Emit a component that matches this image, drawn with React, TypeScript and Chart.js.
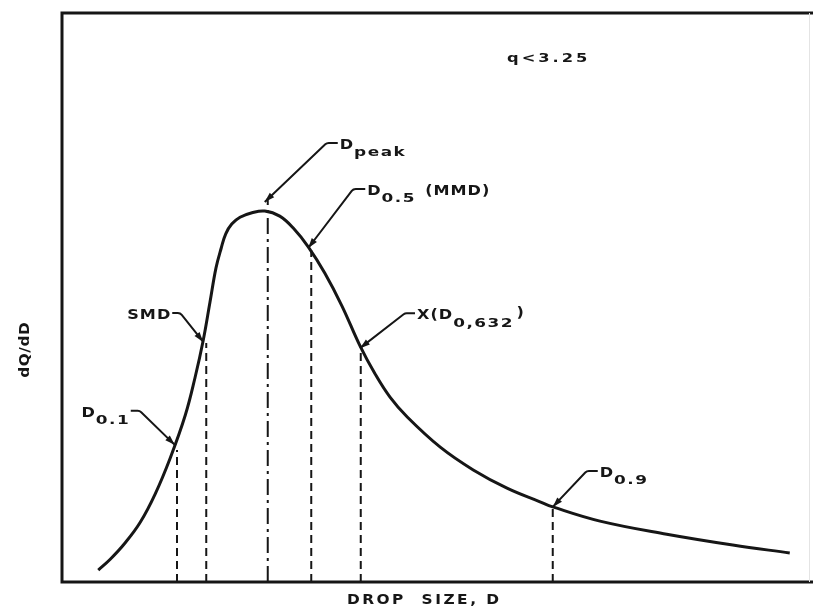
import React, { useEffect, useRef } from 'react';
import { Chart, registerables } from 'chart.js';

Chart.register(...registerables);

// Drop size (arbitrary units, 0..100 across the frame) and dQ/dD (arbitrary units, 0..100)
const curveD = [4.7, 6.3, 8.3, 10.3, 12.3, 14.3, 16.3, 17.6, 18.7, 19.6, 20.4, 21.1, 21.7, 22.5, 23.6, 25.2, 26.9, 28.9, 30.7, 32.7, 34.9, 37.2, 39.6, 41.6, 43.6, 45.9, 50.3, 54.7, 59.2, 63.6, 65.3, 71.6, 80.5, 89.3, 96.9];
const curveV = [2.1, 4.0, 6.9, 10.5, 15.5, 21.8, 29.3, 35.9, 42.5, 49.2, 55.2, 58.7, 61.2, 62.9, 64.1, 64.9, 65.2, 64.3, 62.2, 58.9, 54.3, 48.5, 41.5, 36.6, 32.5, 29.0, 23.7, 19.7, 16.5, 14.1, 13.2, 10.7, 8.4, 6.5, 5.1];

// Characteristic diameters: vertical marker lines
const markerNames = ['D0.1', 'SMD', 'Dpeak', 'D0.5', 'X', 'D0.9'];
const markerD = [15.2, 19.1, 27.3, 33.1, 39.7, 65.3];
const markerTop = [23.2, 42.0, 67.5, 58.3, 40.4, 13.2];
const markerDashDot = [false, false, true, false, false, false];

// Leader arrow tips (on the curve)
const tipD = [14.9, 18.7, 26.9, 32.7, 39.6, 65.3];
const tipV = [24.1, 42.2, 66.8, 58.7, 41.1, 13.2];

// Label texts: base, subscript, tail
const labelBase = ['D', 'SMD', 'D', 'D', 'X(D', 'D'];
const labelSub = ['0.1', '', 'peak', '0.5', '0,632', '0.9'];
const labelTail = ['', '', '', ' (MMD)', ')', ''];

const xTitle = 'DROP  SIZE, D';
const yTitle = 'dQ/dD';
const noteText = 'q<3.25';

// leader geometry (px offsets from tip): elbow, horizontal end, text anchor, align
const leaderLayout = [
  { ex: -35, ey: -34, hx: -44, tx: -46, align: 'right' },
  { ex: -23, ey: -29, hx: -31, tx: -33, align: 'right' },
  { ex: 62, ey: -59, hx: 73, tx: 75, align: 'left' },
  { ex: 45, ey: -59, hx: 57, tx: 59, align: 'left' },
  { ex: 45, ey: -35, hx: 55, tx: 57, align: 'left' },
  { ex: 34, ey: -36, hx: 45, tx: 47, align: 'left' },
];

const INK = '#161616';
const FONT = '"DejaVu Sans", "Liberation Sans", sans-serif';

type TS = { size: number; stretch: number; spacing: number };
const BASE: TS = { size: 14, stretch: 1.15, spacing: 1 };
const SUB: TS = { size: 13, stretch: 1.3, spacing: 1.5 };

function textWidth(ctx: CanvasRenderingContext2D, text: string, s: TS) {
  ctx.font = `bold ${s.size}px ${FONT}`;
  (ctx as any).letterSpacing = '0px';
  let w = 0;
  for (const ch of text) w += ctx.measureText(ch).width * s.stretch + s.spacing;
  return text.length ? w - s.spacing : 0;
}

function drawText(ctx: CanvasRenderingContext2D, text: string, x: number, cy: number, s: TS) {
  ctx.font = `bold ${s.size}px ${FONT}`;
  (ctx as any).letterSpacing = '0px';
  ctx.textAlign = 'left';
  ctx.textBaseline = 'middle';
  let cx = x;
  for (const ch of text) {
    const w = ctx.measureText(ch).width;
    ctx.save();
    ctx.translate(cx, cy);
    ctx.scale(s.stretch, 1);
    ctx.fillText(ch, 0, 0);
    ctx.restore();
    cx += w * s.stretch + s.spacing;
  }
}

function drawLabel(ctx: CanvasRenderingContext2D, x0: number, cy: number, base: string, sub: string, tail: string, align: string) {
  const wb = textWidth(ctx, base, BASE);
  const ws = sub ? textWidth(ctx, sub, SUB) + 1 : 0;
  const wt = tail ? textWidth(ctx, tail, BASE) + 4 : 0;
  const total = wb + ws + wt;
  const sx = align === 'right' ? x0 - total : x0;
  drawText(ctx, base, sx, cy, BASE);
  if (sub) drawText(ctx, sub, sx + wb + 1, cy + 8, SUB);
  if (tail) drawText(ctx, tail, sx + wb + ws + 4, cy + (tail === ')' ? -2 : 0), BASE);
}

const annotPlugin = {
  id: 'annot',
  afterDatasetsDraw(chart: any) {
    const { ctx, chartArea: ca, scales } = chart;
    const xs = scales.x;
    const ys = scales.y;
    ctx.save();
    // frame
    ctx.strokeStyle = INK;
    ctx.lineWidth = 3;
    ctx.lineCap = 'square';
    ctx.beginPath();
    ctx.moveTo(ca.left - 1, ca.top);
    ctx.lineTo(ca.left - 1, ca.bottom);
    ctx.moveTo(ca.left - 1, ca.top);
    ctx.lineTo(chart.width, ca.top);
    ctx.moveTo(ca.left - 1, ca.bottom);
    ctx.lineTo(chart.width, ca.bottom);
    ctx.stroke();
    ctx.lineCap = 'butt';
    ctx.strokeStyle = '#e4e4e4';
    ctx.lineWidth = 1;
    ctx.beginPath();
    ctx.moveTo(chart.width - 3.5, ca.top);
    ctx.lineTo(chart.width - 3.5, ca.bottom);
    ctx.stroke();

    ctx.fillStyle = INK;
    ctx.strokeStyle = INK;

    // leaders and labels
    for (let i = 0; i < tipD.length; i++) {
      const L = leaderLayout[i];
      const tx = xs.getPixelForValue(tipD[i]);
      const ty = ys.getPixelForValue(tipV[i]);
      const exx = tx + L.ex;
      const eyy = ty + L.ey;
      const hxx = tx + L.hx;
      ctx.lineWidth = 2;
      ctx.beginPath();
      ctx.moveTo(hxx, eyy);
      ctx.arcTo(exx, eyy, tx, ty, 5);
      ctx.lineTo(tx, ty);
      ctx.stroke();
      // arrow head
      const ang = Math.atan2(ty - eyy, tx - exx);
      const len = 10;
      const hw = 3.2;
      const bx = tx - Math.cos(ang) * len;
      const by = ty - Math.sin(ang) * len;
      ctx.beginPath();
      ctx.moveTo(tx, ty);
      ctx.lineTo(bx - Math.sin(ang) * hw, by + Math.cos(ang) * hw);
      ctx.lineTo(bx + Math.sin(ang) * hw, by - Math.cos(ang) * hw);
      ctx.closePath();
      ctx.fill();
      drawLabel(ctx, tx + L.tx, eyy + 2, labelBase[i], labelSub[i], labelTail[i], L.align);
    }

    // note
    drawText(ctx, noteText, xs.getPixelForValue(59.2), ys.getPixelForValue(91.9), { size: 13, stretch: 1.25, spacing: 3 });

    // x title
    const XT: TS = { size: 14, stretch: 1.1, spacing: 2.5 };
    const wx = textWidth(ctx, xTitle, XT);
    drawText(ctx, xTitle, 423 - wx / 2, ca.bottom + 18, XT);

    // y title
    const YT: TS = { size: 14, stretch: 1.1, spacing: 0.5 };
    const wy = textWidth(ctx, yTitle, YT);
    ctx.save();
    ctx.translate(25, 350);
    ctx.rotate(-Math.PI / 2);
    drawText(ctx, yTitle, -wy / 2, 0, YT);
    ctx.restore();

    ctx.restore();
  },
};

export default function App() {
  const ref = useRef<HTMLCanvasElement | null>(null);
  useEffect(() => {
    if (!ref.current) return;
    const curve = curveD.map((d, i) => ({ x: d, y: curveV[i] }));
    const markerSets = markerD.map((d, i) => ({
      label: markerNames[i],
      data: [{ x: d, y: 0 }, { x: d, y: markerTop[i] }],
      borderColor: INK,
      borderWidth: 2,
      borderDash: markerDashDot[i] ? [16, 5, 3, 5] : [8, 5],
      pointRadius: 0,
      fill: false,
    }));
    const chart = new Chart(ref.current, {
      type: 'line',
      data: {
        datasets: [
          {
            label: 'dQ/dD',
            data: curve,
            borderColor: INK,
            borderWidth: 3,
            pointRadius: 0,
            fill: false,
            tension: 0.4,
          },
          ...markerSets,
        ] as any,
      },
      options: {
        animation: false,
        responsive: false,
        devicePixelRatio: 1,
        events: [],
        layout: { padding: { left: 63, top: 13, right: 0, bottom: 25 } },
        plugins: { legend: { display: false }, tooltip: { enabled: false } },
        scales: {
          x: { type: 'linear', min: 0, max: 100, display: false },
          y: { type: 'linear', min: 0, max: 100, display: false },
        },
      } as any,
      plugins: [annotPlugin],
    });
    return () => chart.destroy();
  }, []);
  return (
    <div style={{ position: 'fixed', left: 0, top: 0, width: 813, height: 607, background: '#fff' }}>
      <canvas ref={ref} width={813} height={607} style={{ display: 'block' }} />
    </div>
  );
}
